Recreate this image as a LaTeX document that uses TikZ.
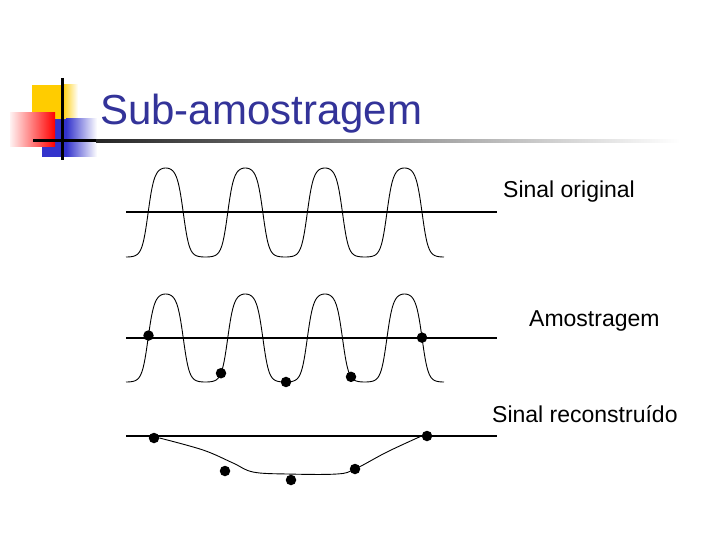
\documentclass[tikz,border=0pt]{standalone}
\usepackage{fontspec}
\setmainfont{Liberation Sans}

\definecolor{titleblue}{RGB}{51,51,153}
\definecolor{logoyellow}{RGB}{255,204,0}
\definecolor{logoblue}{RGB}{51,51,204}

% flat-topped periodic signal, value in [-1,1] (period 79.6)
\pgfmathdeclarefunction{pulse}{1}{%
  \pgfmathparse{2*(tanh(2*(cos(4.5226*(#1-165.7))-0.2))+0.9837)/1.9054-1}%
}

\begin{document}
\begin{tikzpicture}[x=1pt, y=-1pt,
  signal/.style={line width=0.9pt},
  axisline/.style={line width=1.3pt},
  dot/.style={circle, fill=black, inner sep=0pt, minimum size=10.5pt},
  caption/.style={anchor=base west, inner sep=0pt, font=\fontsize{23}{27}\selectfont}]
  \useasboundingbox (0,0) rectangle (720,540);

  % Logo
  \fill[logoyellow] (32,85) rectangle (62,120);
  \shade[left color=logoyellow, right color=white] (62,85) rectangle (78,120);
  \fill[logoblue] (42,119) rectangle (66,157);
  \shade[left color=logoblue, right color=white] (66,119) rectangle (97,157);
  \shade[left color=red!5, right color=red] (10,113) rectangle (55,147);
  \draw[line width=3pt] (62,78) -- (62,160);
  \fill[black] (33,139.5) rectangle (96,142.5);
  \shade[left color=black!85, middle color=black!25, right color=white]
    (96,139.5) rectangle (680,142.5);

  % Title
  \node[anchor=base west, inner sep=0pt, text=titleblue,
        font=\fontsize{42}{50}\selectfont] (title) at (100,125) {Sub-amostragem};

  % Sinal original
  \draw[axisline] (126,212) -- (497,212);
  \draw[signal] plot[domain=126:444, samples=240, smooth]
    (\x, {212.5-44.5*pulse(\x)});
  \node[caption] (orig) at (503,197) {Sinal original};

  % Amostragem
  \draw[axisline] (126,338) -- (497,338);
  \draw[signal] plot[domain=126:444, samples=240, smooth]
    (\x, {338-44*pulse(\x)});
  \foreach \i/\sx in {1/148.5, 2/221, 3/286, 4/351, 5/422} {
    \pgfmathsetmacro{\sy}{338-44*pulse(\sx)}
    \node[dot] (s\i) at (\sx,\sy) {};
  }
  \node[caption] (amost) at (529,326) {Amostragem};

  % Sinal reconstruido
  \draw[axisline] (126,436) -- (497,436);
  \foreach \i/\rx/\ry in {1/154/438, 2/225/471, 3/291/480, 4/355/469, 5/427/436} {
    \node[dot] (r\i) at (\rx,\ry) {};
  }
  \draw[signal] plot[smooth, tension=0.6] coordinates
    {(r1.east) (203,450) (233,463) (253,472) (287,474) (337,474) (r4) (387,452) (r5.west)};
  \node[caption] (recon) at (492,422) {Sinal reconstruído};
\end{tikzpicture}
\end{document}
